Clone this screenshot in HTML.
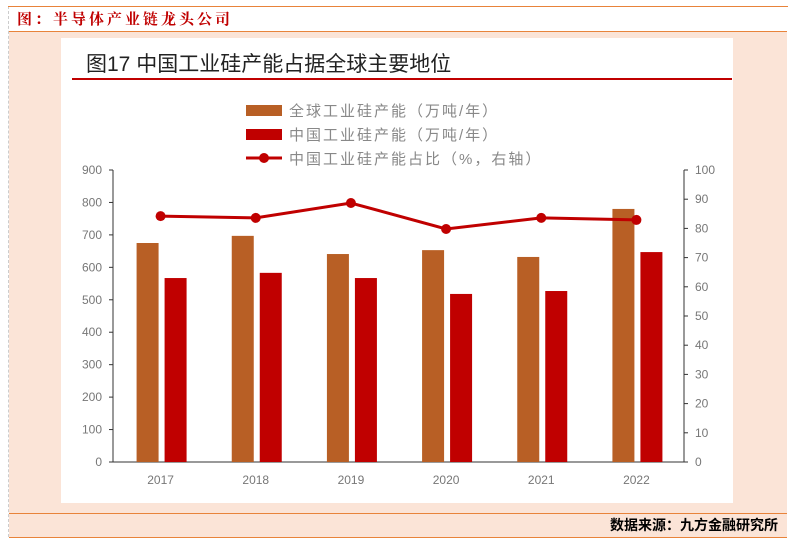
<!DOCTYPE html>
<html><head><meta charset="utf-8"><style>
body{margin:0;width:794px;height:549px;overflow:hidden;background:#fff;font-family:"Liberation Sans","Noto Sans CJK SC",sans-serif;position:relative}
.abs{position:absolute}
</style></head><body>
<div class="abs" style="left:8px;top:6px;width:780px;height:531px;border-left:1px dashed #ccc;"></div>
<div class="abs" style="left:8px;top:6px;width:780px;height:1px;background:#e8833a"></div>
<div class="abs" style="left:17px;top:8px;font-size:15px;font-weight:bold;color:#c00000;letter-spacing:3px;font-family:'Noto Serif CJK SC','Noto Sans CJK SC',serif">图：半导体产业链龙头公司</div>
<div class="abs" style="left:9px;top:31px;width:778px;height:506px;background:#fbe4d7;border-top:1px solid #e8833a"></div>
<div class="abs" style="left:61px;top:38px;width:672px;height:465px;background:#fff"></div>
<div class="abs" style="left:86px;top:48px;font-size:21px;color:#222">图17 中国工业硅产能占据全球主要地位</div>
<div class="abs" style="left:72px;top:78px;width:660px;height:2px;background:#c00000"></div>
<div class="abs" style="left:9px;top:513px;width:778px;height:1px;background:#e8833a"></div>
<div class="abs" style="left:9px;top:537px;width:778px;height:1px;background:#e8833a"></div>
<div class="abs" style="right:16px;top:515px;font-size:14px;font-weight:bold;color:#000">数据来源：九方金融研究所</div>
<svg class="abs" style="left:0;top:0" width="794" height="549" id="chart"></svg>
<script>
const years=["2017","2018","2019","2020","2021","2022"];
const globalCap=[675,697,641,653,632,780];
const chinaCap=[567,583,567,518,527,647];
const chinaShare=[84.2,83.6,88.7,79.8,83.6,82.9];
const leftTicks=[0,100,200,300,400,500,600,700,800,900];
const rightTicks=[0,10,20,30,40,50,60,70,80,90,100];
const NS="http://www.w3.org/2000/svg";
const svg=document.getElementById('chart');
const X0=113,X1=684,Y0=462,Y1=170;
const yL=v=>Y0-(v/900)*(Y0-Y1);
const yR=v=>Y0-(v/100)*(Y0-Y1);
const bw=(X1-X0)/years.length;
const xc=i=>X0+bw*(i+0.5);
function mk(t,a){const e=document.createElementNS(NS,t);for(const k in a)e.setAttribute(k,a[k]);svg.appendChild(e);return e;}
let e;
e=mk('line',{x1:X0,y1:Y1,x2:X0,y2:Y0,stroke:'#333','stroke-width':1});

e=mk('line',{x1:X1,y1:Y1,x2:X1,y2:Y0,stroke:'#333','stroke-width':1});

e=mk('line',{x1:X0,y1:Y0,x2:X1,y2:Y0,stroke:'#333','stroke-width':1});

leftTicks.forEach(v=>{const y=yL(v);
 e=mk('line',{x1:X0-4,y1:y,x2:X0,y2:y,stroke:'#333'});
 
 e=mk('text',{x:X0-11,y:y+4,'text-anchor':'end','font-size':12,fill:'#777'});e.textContent=v;
 });
rightTicks.forEach(v=>{const y=yR(v);
 e=mk('line',{x1:X1,y1:y,x2:X1+4,y2:y,stroke:'#333'});
 
 e=mk('text',{x:X1+11,y:y+4,'font-size':12,fill:'#777'});e.textContent=v;
 });
years.forEach((yr,i)=>{
 e=mk('text',{x:xc(i),y:Y0+22,'text-anchor':'middle','font-size':12,fill:'#777'});e.textContent=yr;
 
 e=mk('rect',{x:xc(i)-24,y:yL(globalCap[i]),width:22,height:Y0-yL(globalCap[i]),fill:'#b85f25'});
 
 e=mk('rect',{x:xc(i)+4,y:yL(chinaCap[i]),width:22,height:Y0-yL(chinaCap[i]),fill:'#c00000'});
 
});
e=mk('polyline',{points:chinaShare.map((v,i)=>xc(i)+','+yR(v)).join(' '),fill:'none',stroke:'#c00000','stroke-width':3});

chinaShare.forEach((v,i)=>{e=mk('circle',{cx:xc(i),cy:yR(v),r:5,fill:'#c00000'});
 });
// legend
const lg=[['#b85f25','全球工业硅产能（万吨/年）',false],['#c00000','中国工业硅产能（万吨/年）',false],['#c00000','中国工业硅产能占比（%，右轴）',true]];
lg.forEach((l,i)=>{const y=110+i*24;
 if(l[2]){e=mk('line',{x1:246,y1:y,x2:282,y2:y,stroke:l[0],'stroke-width':3});
  
  e=mk('circle',{cx:264,cy:y,r:5,fill:l[0]});
  }
 else{e=mk('rect',{x:246,y:y-5,width:36,height:11,fill:l[0]});
  }
 e=mk('text',{x:289,y:y+6,'font-size':15,fill:'#888','letter-spacing':2});e.textContent=l[1];
 });
</script>
</body></html>
